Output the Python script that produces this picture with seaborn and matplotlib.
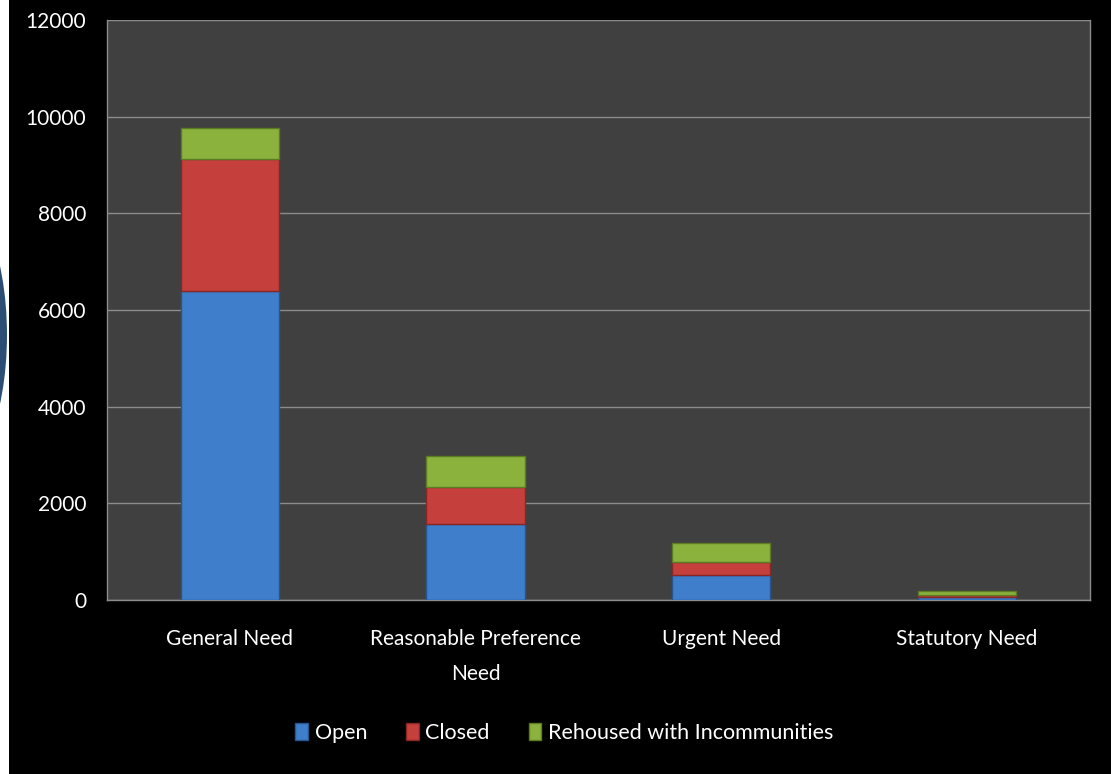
import matplotlib
matplotlib.use("Agg")
import matplotlib.pyplot as plt
from matplotlib.patches import Rectangle, Ellipse
import numpy as np
import pandas as pd
import seaborn as sns

categories = ["General Need", "Reasonable Preference\nNeed", "Urgent Need", "Statutory Need"]
open_vals = [6400, 1570, 510, 70]
closed_vals = [2720, 760, 280, 40]
rehoused_vals = [650, 640, 380, 70]
series_names = ["Open", "Closed", "Rehoused with Incommunities"]
y_ticks = [0, 2000, 4000, 6000, 8000, 10000, 12000]

COLORS = {
    "Open": "#3F7ECB",
    "Closed": "#C53F3D",
    "Rehoused with Incommunities": "#8CB23E",
}
EDGES = {
    "Open": "#28558f",
    "Closed": "#872726",
    "Rehoused with Incommunities": "#5d7a25",
}

sns.set_theme(style="dark")
plt.rcParams.update(
    {
        "font.family": ["Lato", "DejaVu Sans"],
        "font.size": 15,
        "axes.facecolor": "#404040",
        "figure.facecolor": "white",
        "text.color": "white",
        "xtick.color": "white",
        "ytick.color": "white",
    }
)

df = pd.DataFrame(
    {
        "need": categories,
        "Open": open_vals,
        "Closed": closed_vals,
        "Rehoused with Incommunities": rehoused_vals,
    }
)

fig = plt.figure(figsize=(11.11, 7.74), dpi=100)
ax = fig.add_axes([0.0963, 0.2248, 0.8847, 0.7494])

# slide decoration: white strip with a blue disc on the far left, black slide behind the chart
fig.patches.append(Ellipse((-60 / 1111, 1 - 335 / 774), 134 / 1111, 310 / 774,
                           transform=fig.transFigure, facecolor="#2d4e74",
                           edgecolor="none", zorder=-3))
fig.patches.append(Rectangle((9 / 1111, 0), 1, 1, transform=fig.transFigure,
                             facecolor="black", edgecolor="none", zorder=-2))

bottom = np.zeros(len(categories))
for name in series_names:
    sns.barplot(
        data=df,
        x="need",
        y=name,
        color=COLORS[name],
        bottom=bottom,
        width=0.4,
        edgecolor=EDGES[name],
        linewidth=1,
        saturation=1,
        label=name,
        ax=ax,
        zorder=3,
    )
    bottom = bottom + df[name].to_numpy()

ax.set_ylim(0, 12000)
ax.set_xlim(-0.5, len(categories) - 0.5)
ax.set_yticks(y_ticks)
ax.set_yticklabels([str(v) for v in y_ticks])
ax.set_xlabel("")
ax.set_ylabel("")
ax.grid(axis="y", color="#8c8c8c", linewidth=1, zorder=0)
ax.set_axisbelow(True)

ax.set_xticks(np.arange(len(categories)))
ax.set_xticklabels(categories, linespacing=1.9)
ax.set_xticks(np.arange(-0.5, len(categories)), minor=True)
ax.tick_params(axis="x", which="major", length=0, pad=21, labelsize=15)
ax.tick_params(axis="x", which="minor", length=8, color="#8c8c8c", width=1)
ax.tick_params(axis="y", length=7, color="#8c8c8c", width=1, pad=8, labelsize=15)

for side in ["left", "bottom", "right"]:
    ax.spines[side].set_visible(True)
    ax.spines[side].set_color("#8c8c8c")
    ax.spines[side].set_linewidth(1)
ax.spines["top"].set_visible(False)

handles, labels = ax.get_legend_handles_labels()
if ax.get_legend() is not None:
    ax.get_legend().remove()
fig.legend(
    handles,
    labels,
    loc="center",
    bbox_to_anchor=(0.508, 1 - 733 / 774),
    ncol=3,
    frameon=False,
    fontsize=15.5,
    handlelength=0.6,
    handleheight=0.8,
    handletextpad=0.3,
    columnspacing=1.8,
    labelcolor="white",
)

fig.savefig("out.png", dpi=100, facecolor=fig.get_facecolor())
